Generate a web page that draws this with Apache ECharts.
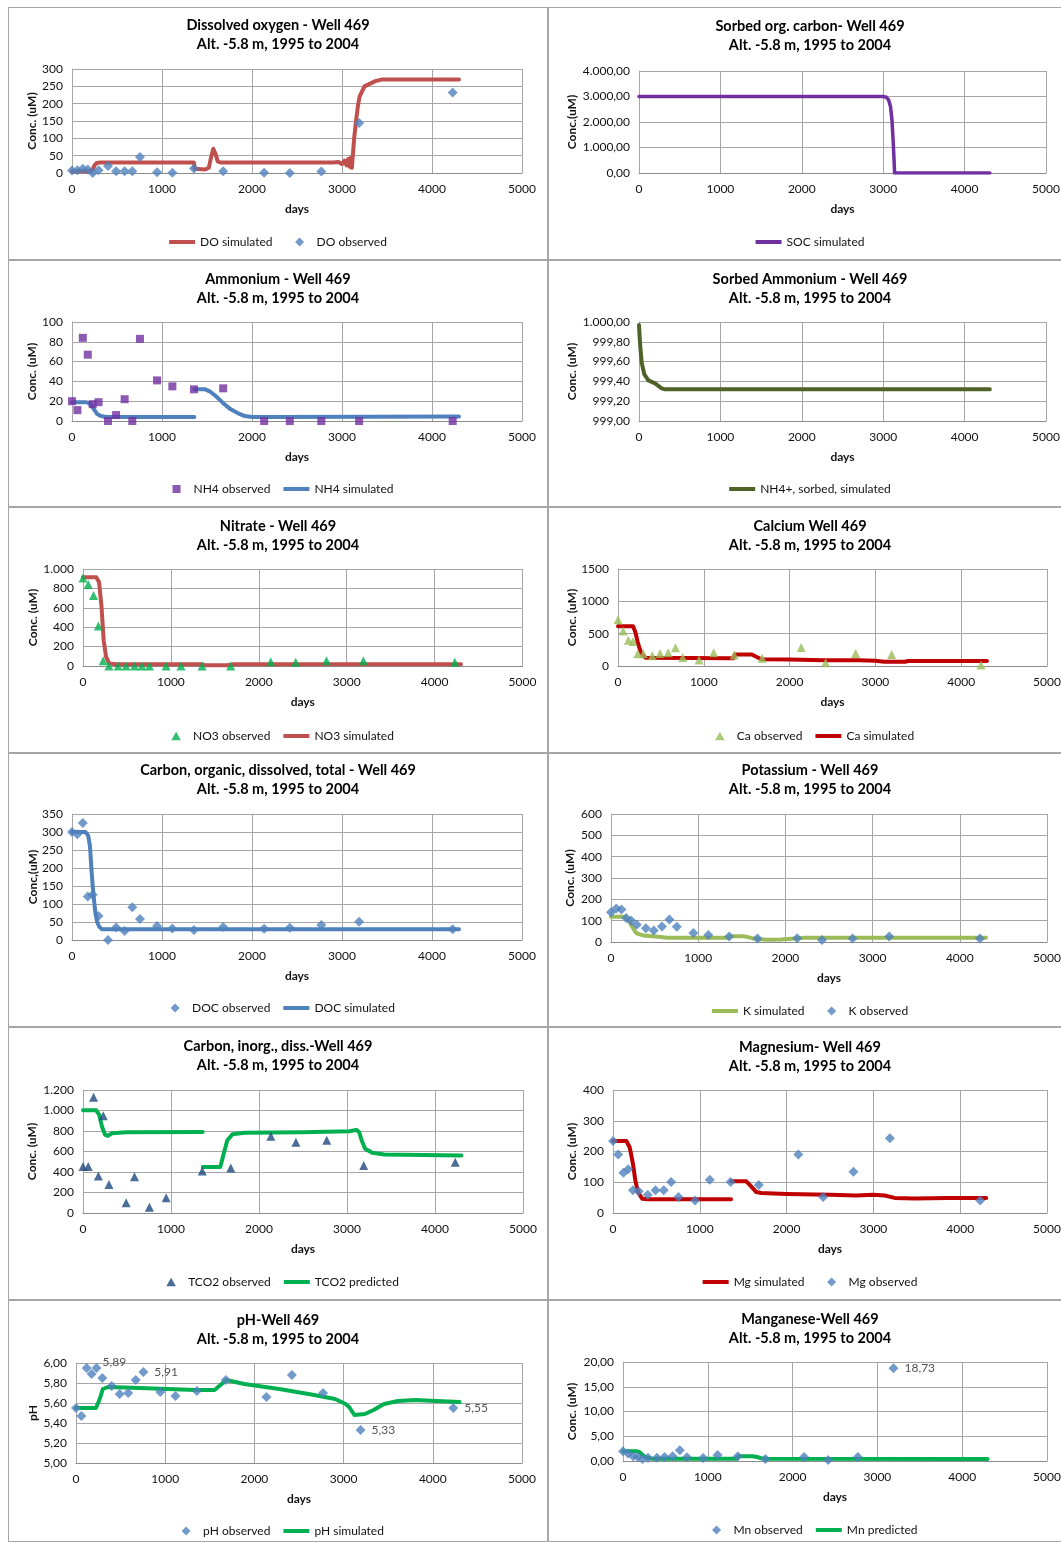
<!DOCTYPE html>
<html><head><meta charset="utf-8">
<script src="https://cdn.jsdelivr.net/npm/echarts@6/dist/echarts.min.js"></script>
<style>
html,body{margin:0;padding:0;background:#fff;overflow:hidden;width:1061px;height:1542px;position:relative;}
.b{position:absolute;box-sizing:border-box;border:1px solid #a6a6a6;background:#fff;}
.c{position:absolute;}
</style></head><body>
<div id="root"></div>
<script>
// ---------- DATA ----------
const sampleDays = [0, 60, 120, 175, 230, 295, 400, 490, 585, 670, 755, 945, 1115, 1355, 1680, 2135, 2420, 2770, 3190, 4230];

const doObs = [7, 8, 12, 10, 0, 8, 20, 5, 5, 5, 46, 2, 1, 13, 5, 1, 0, 4, 144, 232];
const doSimX = [0, 200, 230, 250, 270, 300, 1355, 1365, 1480, 1520, 1545, 1570, 1595, 1620, 1660, 2900, 2960, 3000, 3030, 3050, 3070, 3085, 3100, 3110, 3117, 3135, 3156, 3175, 3195, 3250, 3370, 3450, 4300];
const doSimY = [5, 5, 10, 22, 28, 30, 30, 12, 10, 15, 45, 70, 55, 33, 30, 30, 32, 26, 36, 22, 40, 18, 45, 15, 40, 100, 150, 190, 220, 250, 265, 270, 270];

const socX = [0, 3000, 3040, 3066, 3090, 3107, 3120, 3132, 3140, 4310];
const socY = [3000, 3000, 2970, 2870, 2600, 2100, 1400, 600, 0, 0];

const nh4Obs = [20, 11, 84, 67, 17, 19, 0, 6, 22, 0, 83, 41, 35, 32, 33, 0, 0, 0, 0, 0];
const nh4SimX = [0, 150, 190, 220, 250, 280, 320, 380, 1359, 1360, 1362, 1480, 1530, 1600, 1680, 1760, 1840, 1920, 2000, 2200, 4300];
const nh4SimY = [19, 19, 18, 15, 11, 7, 5, 4, 4, null, 32, 32, 30, 25, 18, 12, 8, 5, 4, 4, 4.5];

const sorbX = [0, 8, 16, 33, 66, 115, 197, 278, 320, 4310];
const sorbY = [999.97, 999.85, 999.75, 999.59, 999.47, 999.41, 999.38, 999.33, 999.32, 999.32];

const no3Obs = [908, 840, 727, 413, 55, 0, 0, 0, 0, 0, 0, 0, 0, 0, 0, 44, 38, 55, 55, 38];
const no3SimX = [0, 151, 183, 211, 235, 262, 298, 370, 1355, 1400, 1640, 1700, 4300];
const no3SimY = [915, 915, 863, 608, 266, 96, 27, 17, 17, 7, 8, 17, 17];

const caObs = [717, 543, 399, 379, 189, 189, 159, 195, 205, 282, 133, 92, 205, 169, 118, 287, 51, 195, 179, 15];
const caSimX = [0, 175, 202, 233, 272, 319, 1300, 1315, 1345, 1360, 1560, 1612, 1671, 2000, 2400, 2800, 3000, 3100, 3350, 3380, 4300];
const caSimY = [614, 614, 527, 348, 195, 128, 118, 92, 120, 179, 179, 143, 105, 100, 90, 87, 80, 66, 66, 77, 77];

const docObs = [300, 294, 325, 121, 126, 67, 0, 35, 25, 91, 58, 39, 32, 28, 36, 31, 34, 42, 51, 30];
const docSimX = [0, 150, 180, 200, 215, 230, 245, 260, 280, 300, 330, 4300];
const docSimY = [300, 300, 290, 260, 200, 150, 110, 75, 50, 38, 30, 30];

const kObs = [140, 157, 152, 113, 101, 81, 64, 54, 73, 106, 72, 42, 33, 26, 16, 17, 9, 16, 26, 16];
const kSimX = [0, 150, 190, 220, 250, 275, 300, 380, 540, 650, 1340, 1370, 1520, 1570, 1620, 1700, 1800, 1950, 2100, 2220, 4300];
const kSimY = [118, 118, 106, 88, 67, 50, 39, 30, 25, 20, 20, 27, 27, 23, 18, 13, 11, 12, 16, 20, 20];

const tco2Obs = [454, 454, 1129, 360, 950, 279, null, 100, 354, null, 55, 149, null, 409, 438, 749, 691, 710, 464, 496];
const tco2SimX = [0, 151, 183, 218, 250, 282, 329, 488, 1360, 1361, 1362, 1560, 1599, 1639, 1698, 1837, 2500, 3028, 3107, 3139, 3167, 3206, 3286, 3425, 4300];
const tco2SimY = [1002, 1002, 960, 837, 765, 752, 778, 788, 790, null, 448, 448, 577, 707, 769, 782, 788, 798, 811, 788, 707, 626, 587, 571, 561];

const mgObs = [234, 190, 131, 142, 74, 71, 59, 74, 74, 101, 52, 41, 108, 101, 91, 190, 52, 134, 243, 41];
const mgSimX = [0, 154, 192, 230, 257, 288, 338, 400, 1360, 1361, 1362, 1536, 1594, 1651, 1709, 2000, 2500, 2800, 3000, 3130, 3245, 3475, 3860, 4300];
const mgSimY = [234, 234, 214, 160, 106, 68, 46, 45, 45, null, 103, 103, 86, 68, 65, 62, 59, 57, 59, 57, 49, 47, 49, 49];

const phObs = [5.55, 5.47, 5.95, 5.89, 5.95, 5.85, 5.77, 5.69, 5.70, 5.83, 5.91, 5.71, 5.67, 5.72, 5.83, 5.66, 5.88, 5.70, 5.33, 5.55];
const phLabelIdx = [3, 10, 18, 19];
const phSimX = [0, 223, 262, 301, 360, 713, 1339, 1554, 1633, 1684, 1887, 2279, 2670, 2905, 3023, 3062, 3121, 3238, 3336, 3453, 3610, 3806, 4041, 4300];
const phSimY = [5.55, 5.55, 5.63, 5.74, 5.76, 5.75, 5.73, 5.73, 5.79, 5.83, 5.79, 5.74, 5.68, 5.64, 5.59, 5.56, 5.48, 5.49, 5.53, 5.59, 5.62, 5.63, 5.62, 5.61];

const mnObs = [1.95, 1.5, 0.95, 0.8, 0.4, 0.67, 0.67, 0.8, 0.95, 2.15, 0.75, 0.6, 1.2, 0.95, 0.4, 0.8, 0.2, 0.8, 18.73, null];
const mnLabelIdx = [18];
const mnSimX = [0, 165, 190, 212, 232, 252, 272, 291, 350, 1340, 1360, 1530, 1580, 1630, 1700, 4300];
const mnSimY = [1.95, 1.95, 1.85, 1.5, 1.2, 0.95, 0.7, 0.55, 0.45, 0.45, 0.95, 0.95, 0.8, 0.55, 0.45, 0.42];

// ---------- HELPERS ----------
const FONT = 'Lato, "Open Sans", sans-serif';
const BOX = 'M0,0L0.01,0L0,0.01Z M26,9L25.99,9L26,8.99Z ';
const ICONS = {
  line: 'path://M0,2.5L26,2.5L26,6.5L0,6.5Z' + ' ' + BOX,
  diamond: 'path://' + BOX + 'M14,0L18.5,4.5L14,9L9.5,4.5Z',
  triangle: 'path://' + BOX + 'M14,0.3L18.8,8.7L9.2,8.7Z',
  rect: 'path://' + BOX + 'M10,0.5L18,0.5L18,8.5L10,8.5Z'
};
function eu(v, dec) {
  const s = Math.abs(v).toFixed(dec);
  let parts = s.split('.');
  let ip = parts[0].replace(/\B(?=(\d{3})+(?!\d))/g, '.');
  return (v < 0 ? '-' : '') + ip + (parts.length > 1 ? ',' + parts[1] : '');
}
function lineS(name, xs, ys, color, width) {
  return {type: 'line', name: name, data: xs.map((x, i) => [x, ys[i] == null ? '-' : ys[i]]),
    symbol: 'none', showSymbol: false, connectNulls: false, smooth: false,
    lineStyle: {color: color, width: width || 4, cap: 'round', join: 'round'},
    itemStyle: {color: color}, animation: false, z: 2, _icon: ICONS.line};
}
function obsS(name, vals, symbol, size, color, labelIdx, labelOffsets, dec) {
  const data = [];
  sampleDays.forEach((d, i) => {
    if (vals[i] == null) return;
    const item = {value: [d, vals[i]]};
    if (labelIdx && labelIdx.indexOf(i) >= 0) {
      const off = (labelOffsets && labelOffsets[i]) || [0, 0];
      item.label = {show: true, position: 'right', distance: 6, offset: off,
        formatter: () => eu(vals[i], dec), fontFamily: FONT, fontSize: 12, color: '#262626'};
    }
    data.push(item);
  });
  return {type: 'scatter', name: name, data: data, symbol: symbol, symbolSize: size,
    itemStyle: {color: color}, animation: false, z: 3, _icon: ICONS[symbol]};
}

const BLUE = '#4F81BD', RED = '#C0504D', DRED = '#C00000', GREEN = '#00B050', LGREEN = '#9BBB59', PURPLE = '#7030A0';
const TITLE2 = 'Alt. -5.8 m, 1995 to 2004';
const intFmt = v => String(Math.round(v));

const panels = [
  {box: [8, 7, 540, 253], tt: 8.5, grid: [64, 62, 450, 104], title: 'Dissolved oxygen - Well 469',
   y: [0, 300, 50], fmt: intFmt, yName: 'Conc. (uM)', yGap: 34, leg: 235,
   series: [lineS('DO simulated', doSimX, doSimY, RED, 4), obsS('DO observed', doObs, 'diamond', 10, BLUE)]},
  {box: [548, 7, 524, 253], tt: 9.5, grid: [91, 64, 407, 102], title: 'Sorbed org. carbon- Well 469',
   y: [0, 4000, 1000], fmt: v => eu(v, 2), yName: 'Conc.(uM)', yGap: 61, leg: 235,
   series: [lineS('SOC simulated', socX, socY, PURPLE, 3.5)]},
  {box: [8, 260, 540, 247], tt: 9.5, grid: [64, 62, 450, 99], title: 'Ammonium - Well 469',
   y: [0, 100, 20], fmt: intFmt, yName: 'Conc. (uM)', yGap: 34, leg: 229,
   series: [obsS('NH4 observed', nh4Obs, 'rect', 8, PURPLE), lineS('NH4 simulated', nh4SimX, nh4SimY, BLUE, 4)]},
  {box: [548, 260, 524, 247], tt: 9.5, grid: [91, 62, 407, 99], title: 'Sorbed Ammonium - Well 469',
   y: [999, 1000, 0.2], fmt: v => eu(v, 2), yName: 'Conc. (uM)', yGap: 61, leg: 229,
   series: [lineS('NH4+, sorbed, simulated', sorbX, sorbY, '#4F6228', 4)]},
  {box: [8, 507, 540, 246], tt: 9.5, grid: [75, 62, 439.5, 97], title: 'Nitrate - Well 469',
   y: [0, 1000, 200], fmt: v => eu(v, 0), yName: 'Conc. (uM)', yGap: 44, leg: 229,
   series: [obsS('NO3 observed', no3Obs, 'triangle', 9, GREEN), lineS('NO3 simulated', no3SimX, no3SimY, RED, 4)]},
  {box: [548, 507, 524, 246], tt: 9.5, grid: [70, 62, 429, 97], title: 'Calcium Well 469',
   y: [0, 1500, 500], fmt: intFmt, yName: 'Conc. (uM)', yGap: 40, leg: 229,
   series: [obsS('Ca observed', caObs, 'triangle', 9, LGREEN), lineS('Ca simulated', caSimX, caSimY, DRED, 4)]},
  {box: [8, 753, 540, 274], tt: 7.5, grid: [64, 61, 450, 126], title: 'Carbon, organic, dissolved, total - Well 469',
   y: [0, 350, 50], fmt: intFmt, yName: 'Conc,(uM)', yGap: 33, leg: 255,
   series: [obsS('DOC observed', docObs, 'diamond', 10, BLUE), lineS('DOC simulated', docSimX, docSimY, BLUE, 4)]},
  {box: [548, 753, 524, 274], tt: 7.5, grid: [63, 61, 436, 128], title: 'Potassium - Well 469',
   y: [0, 600, 100], fmt: intFmt, yName: 'Conc. (uM)', yGap: 35, leg: 258,
   series: [lineS('K simulated', kSimX, kSimY, LGREEN, 4), obsS('K observed', kObs, 'diamond', 10, BLUE)]},
  {box: [8, 1027, 540, 273], tt: 9.5, grid: [75, 63, 440, 123], title: 'Carbon, inorg., diss.-Well 469',
   y: [0, 1200, 200], fmt: v => eu(v, 0), yName: 'Conc. (uM)', yGap: 45, leg: 255,
   series: [obsS('TCO2 observed', tco2Obs, 'triangle', 9, '#1F497D'), lineS('TCO2 predicted', tco2SimX, tco2SimY, GREEN, 4)]},
  {box: [548, 1027, 524, 273], tt: 10.5, grid: [65, 63, 434, 123], title: 'Magnesium- Well 469',
   y: [0, 400, 100], fmt: intFmt, yName: 'Conc. (uM)', yGap: 35, leg: 255,
   series: [lineS('Mg simulated', mgSimX, mgSimY, DRED, 4), obsS('Mg observed', mgObs, 'diamond', 10, BLUE)]},
  {box: [8, 1300, 540, 242], tt: 10.5, grid: [68, 63, 446, 100], title: 'pH-Well 469',
   y: [5, 6, 0.2], fmt: v => eu(v, 2), yName: 'pH', yGap: 37, leg: 231,
   series: [obsS('pH observed', phObs, 'diamond', 10, BLUE, phLabelIdx, {3: [0, -12]}, 2), lineS('pH simulated', phSimX, phSimY, GREEN, 4)]},
  {box: [548, 1300, 524, 242], tt: 9.5, grid: [75, 62, 424, 99], title: 'Manganese-Well 469',
   y: [0, 20, 5], fmt: v => eu(v, 2), yName: 'Conc. (uM)', yGap: 45, leg: 230,
   series: [obsS('Mn observed', mnObs, 'diamond', 10, BLUE, mnLabelIdx, null, 2), lineS('Mn predicted', mnSimX, mnSimY, GREEN, 4)]}
];

const root = document.getElementById('root');
panels.forEach((p, k) => {
  const b = document.createElement('div');
  b.className = 'b';
  b.style.cssText = `left:${p.box[0]}px;top:${p.box[1]}px;width:${p.box[2]}px;height:${p.box[3]}px;`;
  root.appendChild(b);
  const el = document.createElement('div');
  el.className = 'c';
  el.style.cssText = `left:${p.box[0]}px;top:${p.box[1]}px;width:${p.box[2]}px;height:${p.box[3]}px;`;
  root.appendChild(el);
  const chart = echarts.init(el, null, {renderer: 'canvas'});
  const axisText = {fontFamily: FONT, fontSize: 12, color: '#111'};
  const nameText = {fontFamily: FONT, fontSize: 12, fontWeight: 'bold', color: '#111'};
  const legendData = p.series.map(s => ({name: s.name, icon: s._icon}));
  p.series.forEach(s => { delete s._icon; });
  chart.setOption({
    animation: false,
    backgroundColor: 'transparent',
    textStyle: {fontFamily: FONT},
    title: {text: p.title + '\n' + TITLE2, left: 'center', top: p.tt, padding: 0,
      textStyle: {fontFamily: FONT, fontSize: 14.5, fontWeight: 'bold', color: '#000', lineHeight: 19}},
    legend: {left: 'center', top: p.leg - 6, padding: 0, itemWidth: 26, itemHeight: 9, itemGap: 13,
      symbolKeepAspect: true,
      data: legendData,
      textStyle: {fontFamily: FONT, fontSize: 12, color: '#111'}},
    grid: {left: p.grid[0], top: p.grid[1], width: p.grid[2], height: p.grid[3], containLabel: false},
    xAxis: {type: 'value', min: 0, max: 5000, interval: 1000,
      name: 'days', nameLocation: 'middle', nameGap: 30, nameTextStyle: nameText, nameMoveOverlap: false,
      axisLine: {show: true, onZero: false, lineStyle: {color: '#8c8c8c', width: 1}},
      axisTick: {show: false},
      axisLabel: Object.assign({margin: 10, formatter: v => String(v)}, axisText),
      splitLine: {show: true, lineStyle: {color: '#a6a6a6', width: 1}}},
    yAxis: {type: 'value', min: p.y[0], max: p.y[1], interval: p.y[2],
      name: p.yName, nameLocation: 'middle', nameGap: p.yGap, nameTextStyle: nameText, nameMoveOverlap: false,
      axisLine: {show: true, lineStyle: {color: '#a6a6a6', width: 1}},
      axisTick: {show: false},
      axisLabel: Object.assign({margin: 9, formatter: p.fmt}, axisText),
      splitLine: {show: true, lineStyle: {color: '#a6a6a6', width: 1}}},
    series: p.series
  });
});
</script>
</body></html>
